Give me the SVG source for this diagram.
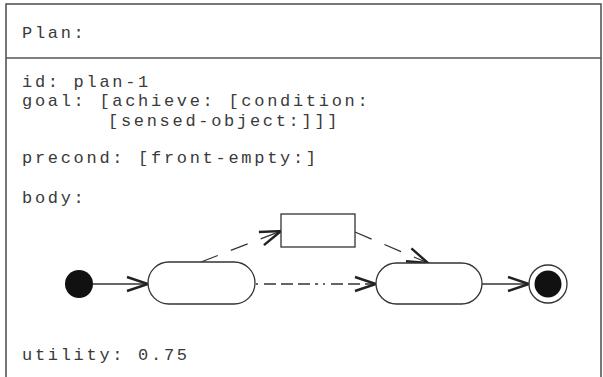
<svg xmlns="http://www.w3.org/2000/svg" width="603" height="377" viewBox="0 0 603 377">
<style>
.t{font-family:"Liberation Mono","Courier New",monospace;font-size:17px;letter-spacing:2.7px;fill:#3a3a3a}
.frame{fill:#fff;stroke:#555;stroke-width:1.6}
.st{fill:#fff;stroke:#333;stroke-width:1.3}
.c{fill:none;stroke:#333;stroke-width:1.3}
</style>
<defs>
<marker id="ah" markerUnits="userSpaceOnUse" markerWidth="26" markerHeight="20" refX="22" refY="8" orient="auto" viewBox="0 0 26 16">
<path d="M1,1 L22,8 L1,15" fill="none" stroke="#222" stroke-width="2.4"/>
</marker>
</defs>
<rect width="603" height="377" fill="#fff"/>
<g id="plan-frame">
<rect class="frame" x="6" y="4" width="595" height="380"/>
<line x1="6" y1="58" x2="601" y2="58" stroke="#555" stroke-width="1.6"/>
<text class="t" x="22" y="38">Plan:</text>
<text class="t" x="22" y="86.5">id: plan-1</text>
<text class="t" x="22" y="106">goal: [achieve: [condition:</text>
<text class="t" x="108" y="125.5">[sensed-object:]]]</text>
<text class="t" x="22" y="163">precond: [front-empty:]</text>
<text class="t" x="22" y="203">body:</text>
<text class="t" x="22" y="360">utility: 0.75</text>
</g>
<g id="connectors">
<line class="c" x1="93" y1="284" x2="148" y2="284" marker-end="url(#ah)"/>
<line class="c" x1="201" y1="262" x2="281" y2="231" stroke-dasharray="18 14" marker-end="url(#ah)"/>
<line class="c" x1="355" y1="232" x2="428" y2="263" stroke-dasharray="18 14" marker-end="url(#ah)"/>
<line class="c" x1="256" y1="284" x2="376" y2="284" stroke-dasharray="2 6 12 5 12 5 12 5 3 5" marker-end="url(#ah)"/>
<line class="c" x1="482" y1="284" x2="529" y2="284" marker-end="url(#ah)"/>
</g>
<g id="initial"><circle cx="79" cy="284" r="14" fill="#111"/></g>
<g id="state1"><rect class="st" x="148" y="262" width="107" height="42" rx="21"/></g>
<g id="action"><rect class="st" x="281" y="214" width="74" height="33"/></g>
<g id="state2"><rect class="st" x="376" y="263" width="106" height="41" rx="20.5"/></g>
<g id="final"><circle cx="548" cy="284" r="19" fill="#fff" stroke="#333" stroke-width="1.3"/><circle cx="548" cy="284" r="13.5" fill="#111"/></g>
</svg>
